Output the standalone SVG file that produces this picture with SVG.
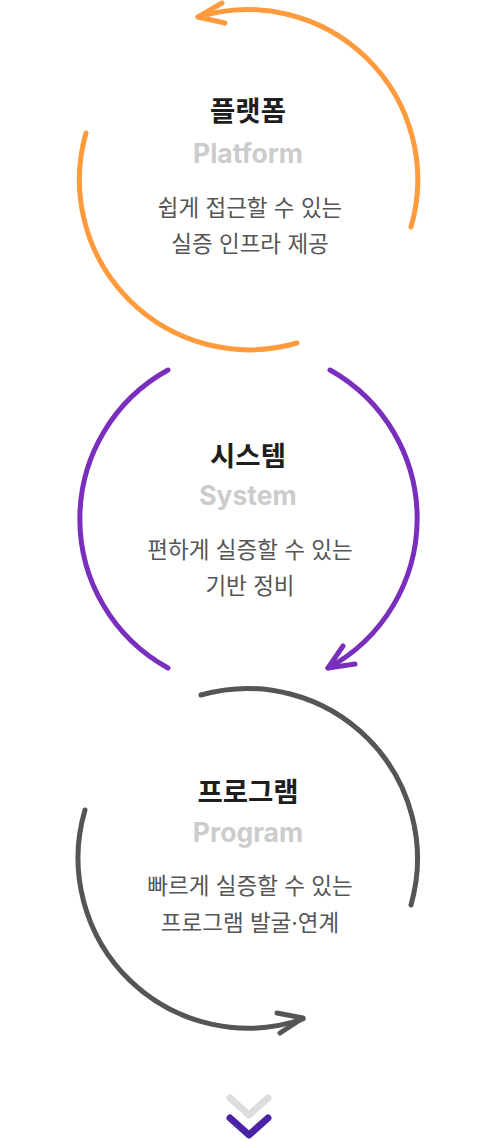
<svg xmlns="http://www.w3.org/2000/svg" width="500" height="1141" viewBox="0 0 500 1141">
<style>
.arc{fill:none;stroke-width:5;stroke-linecap:round;stroke-linejoin:round}
.o{stroke:#FF9B3D}.p{stroke:#7A2EBE}.g{stroke:#555555}
.t{font-family:Inter,"Noto Sans CJK KR",sans-serif;text-anchor:middle}
.ko{font-size:27.5px;font-weight:700;fill:#1E1E1E}
.en{font-size:26.5px;font-weight:700;fill:#CCCCCC}
.d{font-size:22.5px;font-weight:400;fill:#555555}
</style>
<rect width="500" height="1141" fill="#FFFFFF"/>
<g id="connectors">
<path class="arc o" d="M411,227 A170,170 0 0 0 198,17"/>
<polyline class="arc o" points="222,3 198,17 225,23"/>
<path class="arc o" d="M86,133 A170,170 0 0 0 297,343"/>
<path class="arc p" d="M168,370 A170,170 0 0 0 168,668"/>
<path class="arc p" d="M330,370 A170,170 0 0 1 328,668"/>
<polyline class="arc p" points="343,646 328,668 355,664"/>
<path class="arc g" d="M201,695 A170,170 0 0 1 411,905"/>
<path class="arc g" d="M85,810 A170,170 0 0 0 303,1019"/>
<polyline class="arc g" points="277,1013 303,1018 280,1033"/>
</g>
<g id="platform">
<text class="t ko" x="248" y="121">플랫폼</text>
<text class="t en" x="248" y="163">Platform</text>
<text class="t d" x="250" y="216">쉽게 접근할 수 있는</text>
<text class="t d" x="250" y="252">실증 인프라 제공</text>
</g>
<g id="system">
<text class="t ko" x="248" y="466">시스템</text>
<text class="t en" x="248" y="505">System</text>
<text class="t d" x="250" y="558">편하게 실증할 수 있는</text>
<text class="t d" x="250" y="594">기반 정비</text>
</g>
<g id="program">
<text class="t ko" x="248" y="802">프로그램</text>
<text class="t en" x="248" y="842">Program</text>
<text class="t d" x="250" y="894">빠르게 실증할 수 있는</text>
<text class="t d" x="250" y="931">프로그램 발굴·연계</text>
</g>
<g id="scroll-chevrons">
<polyline fill="none" stroke="#DDDDDD" stroke-width="7" stroke-linecap="round" stroke-linejoin="round" points="230,1098 249,1115 268,1098"/>
<polyline fill="none" stroke="#4A23A6" stroke-width="7" stroke-linecap="round" stroke-linejoin="round" points="230,1118 249,1135 268,1118"/>
</g>
</svg>
